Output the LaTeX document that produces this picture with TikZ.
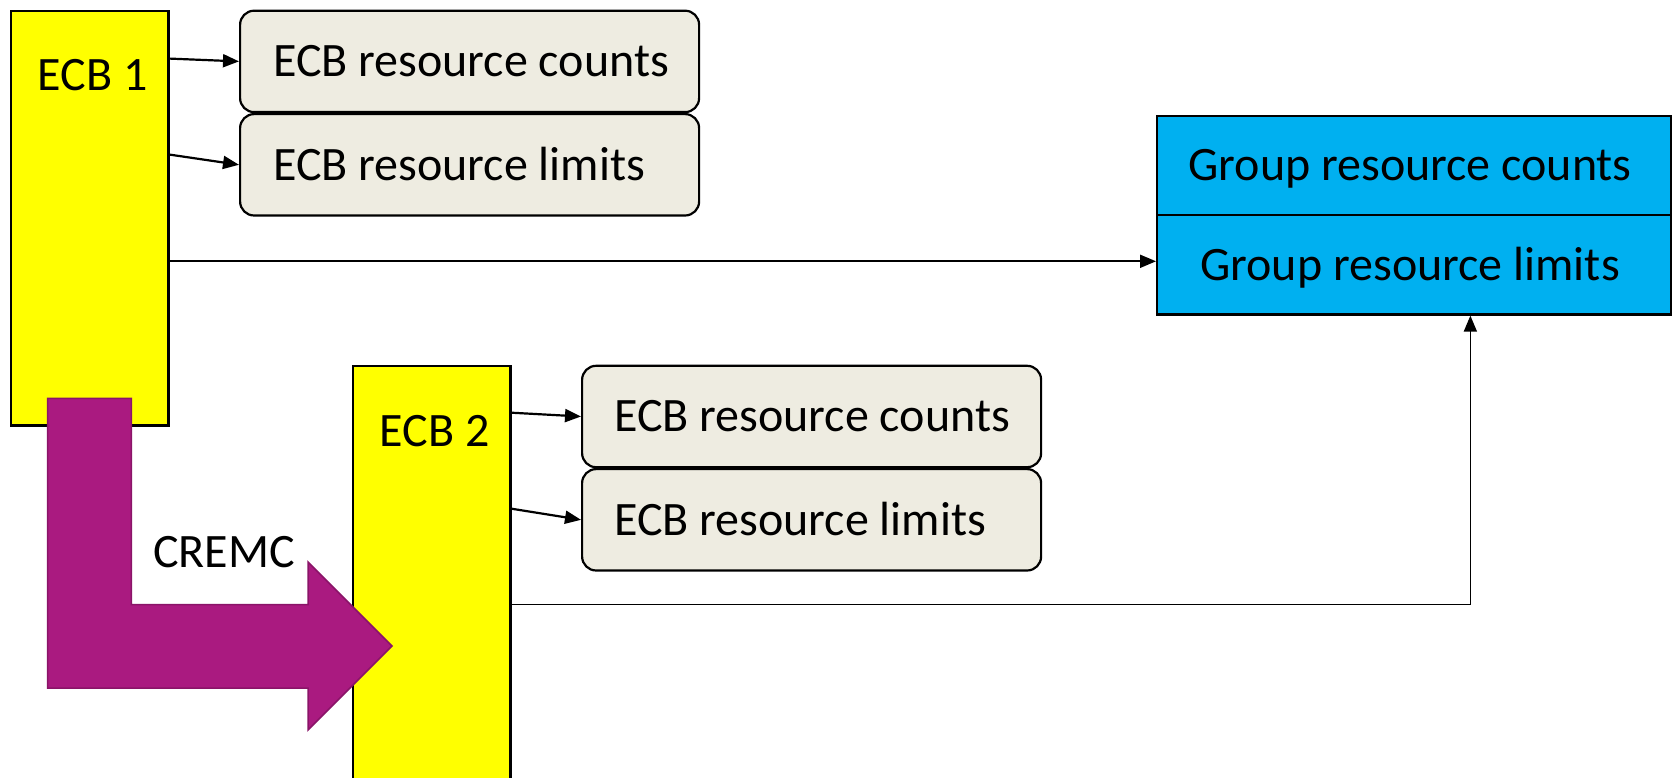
\documentclass[tikz,border=0pt]{standalone}
\usepackage{fontspec}
\setmainfont{Carlito}
\usetikzlibrary{arrows.meta,calc}
\definecolor{ecbyellow}{HTML}{FFFF00}
\definecolor{grpblue}{HTML}{00B0F0}
\definecolor{tanfill}{HTML}{EEECE1}
\definecolor{cremcfill}{HTML}{AA1A80}
\definecolor{cremcline}{HTML}{8A1468}
\begin{document}
\begin{tikzpicture}[x=1pt,y=-1pt,
  ecbbox/.style={draw=black, line width=2.2pt, fill=ecbyellow, anchor=north west, inner sep=0pt, minimum width=157.8pt},
  resbox/.style={draw=black, line width=2.2pt, fill=tanfill, rounded corners=14pt, anchor=north west, inner sep=0pt, minimum width=459pt, minimum height=101.4pt},
  grpbox/.style={draw=black, line width=2.2pt, fill=grpblue, anchor=north west, inner sep=0pt, minimum width=514pt, minimum height=99.2pt},
  lbl/.style={font=\fontsize{48}{57}\selectfont, inner sep=0pt, text height=30.5pt, text depth=0pt},
  arr/.style={-{Triangle[length=16pt,width=13pt]}, line width=2.2pt},
]
\clip (0,0) rectangle (1672,778);
\fill[white] (0,0) rectangle (1672,778);

% ECB boxes
\node[ecbbox, minimum height=414.8pt] (e1) at (9.6,9.6) {};
\node[ecbbox, minimum height=430pt] (e2) at (351.5,364.7) {};

% resource boxes
\node[resbox] (c1) at (239,9.6) {};
\node[resbox] (l1) at (239,113) {};
\node[resbox] (c2) at (581,364.7) {};
\node[resbox] (l2) at (581,468) {};

% group box
\node[grpbox] (g1) at (1156,115) {};
\node[grpbox] (g2) at (1156,214.2) {};

% labels
\node[lbl, anchor=west] (c1t) at ($(c1.west)+(34,0)$) {ECB resource counts};
\node[lbl, anchor=west] (l1t) at ($(l1.west)+(34,0)$) {ECB resource limits};
\node[lbl, anchor=west] (c2t) at ($(c2.west)+(33,0)$) {ECB resource counts};
\node[lbl, anchor=west] (l2t) at ($(l2.west)+(33,0)$) {ECB resource limits};
\node[lbl] (g1t) at ($(g1.center)+(-4,0)$) {Group resource counts};
\node[lbl] (g2t) at ($(g2.center)+(-4,0)$) {Group resource limits};
\node[lbl] (e1t) at ($(e1.north)+(3,65.5)$) {ECB 1};
\node[lbl] (e2t) at ($(e2.north)+(3,66.5)$) {ECB 2};

% connectors
\coordinate (e1a) at ($(e1.north east)+(0,49)$);
\coordinate (e1b) at ($(e1.north east)+(0,145)$);
\coordinate (e2a) at ($(e2.north east)+(0,48)$);
\coordinate (e2b) at ($(e2.north east)+(0,144)$);
\coordinate (e2out) at ($(e2.north east)+(0,240)$);
\coordinate (g2w) at ($(g2.west)+(0,-3.6)$);
\coordinate (g2in) at ($(g2.south east)!0.391!(g2.south west)$);
\draw[arr] (e1a) -- (c1.west);
\draw[arr] (e1b) -- (l1.west);
\draw[arr] (e2a) -- (c2.west);
\draw[arr] (e2b) -- (l2.west);
\draw[arr, line width=2pt] (e1.east |- g2w) -- (g2w);
\draw[arr, line width=1.5pt] (e2out) -| (g2in);

% CREMC bent arrow
\filldraw[fill=cremcfill, draw=cremcline, line width=1.5pt]
  (47.5,398.3) -- (131.4,398.3) -- (131.4,604.5) -- (308,604.5) -- (308,562)
  -- (392,646) -- (308,730) -- (308,688) -- (47.5,688) -- cycle;
\node[lbl] (cremc) at (224,552) {CREMC};
\end{tikzpicture}
\end{document}
